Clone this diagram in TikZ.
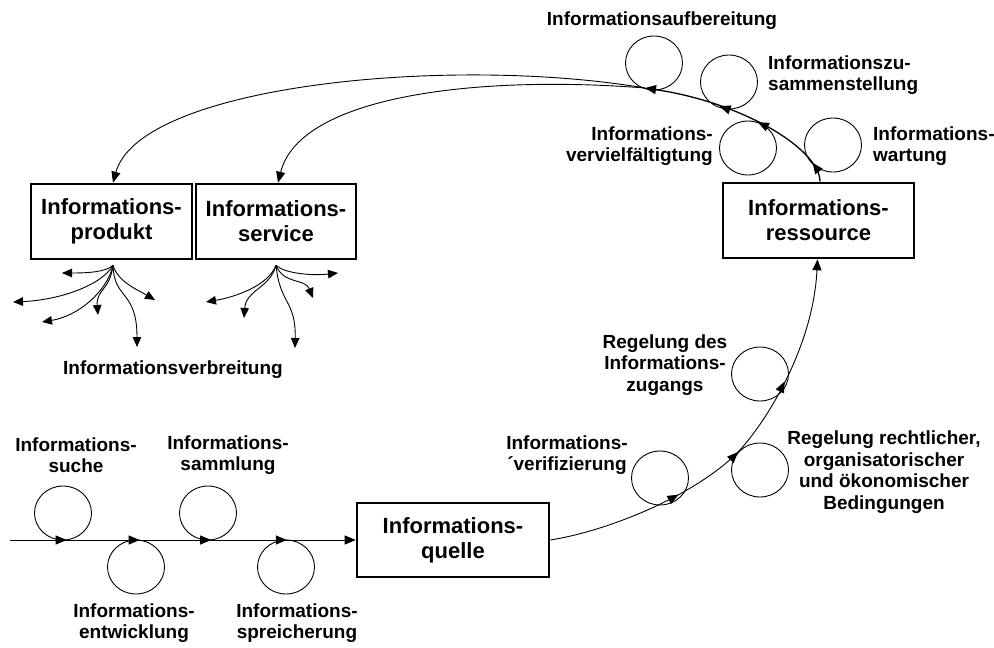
\documentclass[tikz,border=0pt]{standalone}
\usepackage{fontspec}
\setmainfont{Liberation Sans}
\usetikzlibrary{arrows.meta,decorations.markings,shapes.geometric}
\tikzset{
  tri/.tip={Triangle[length=11pt,width=9pt]},
  smalltri/.tip={Triangle[length=10pt,width=8.5pt]},
  thinline/.style={line width=0.9pt},
  fan/.style={line width=0.9pt,-smalltri},
  infobox/.style={draw,line width=2.6pt,inner sep=0pt,align=center,
    font=\fontsize{22}{25}\selectfont\bfseries},
  lbl/.style={inner sep=0pt,align=center,font=\fontsize{19}{21.5}\selectfont\bfseries},
  loopc/.style={draw,ellipse,line width=0.9pt,minimum width=57pt,minimum height=54pt,inner sep=0pt},
}
\begin{document}
\begin{tikzpicture}[x=1pt,y=-1pt]
\useasboundingbox (0,0) rectangle (994,648);

% boxes
\node[infobox,minimum width=161pt,minimum height=75pt] (p) at (111.5,221.5) {Informations-\\produkt};
\node[infobox,minimum width=160pt,minimum height=75pt] (s) at (276,221.5) {Informations-\\service};
\node[infobox,minimum width=191pt,minimum height=75pt] (r) at (818.5,220.5) {Informations-\\ressource};
\node[infobox,minimum width=192pt,minimum height=74pt] (q) at (453,540) {Informations-\\quelle};

% bottom loops
\node[loopc] (c1) at (63,513) {};
\node[loopc] (c2) at (136,567) {};
\node[loopc] (c3) at (208,513) {};
\node[loopc] (c4) at (286,567) {};
\node[lbl] (l1) at (76,455) {Informations-\\suche};
\node[lbl] (l3) at (228,455) {Informations-\\sammlung};
\node[lbl] (l2) at (134,623) {Informations-\\entwicklung};
\node[lbl] (l4) at (297,623) {Informations-\\spreicherung};

\coordinate (lstart) at (10,540);
\draw[thinline,-tri,postaction=decorate,decoration={markings,
  mark=at position 0.164 with {\arrow{tri}},
  mark=at position 0.375 with {\arrow{tri}},
  mark=at position 0.582 with {\arrow{tri}},
  mark=at position 0.801 with {\arrow{tri}}}]
  (lstart) -- (q.west);

% right rising curve
\node[loopc] (c5) at (660,478) {};
\node[loopc] (c6) at (760,470) {};
\node[loopc] (c7) at (760,374) {};
\node[lbl] (l5) at (567,455) {Informations-\\´verifizierung};
\node[lbl] (l6) at (665,365) {Regelung des\\Informations-\\zugangs};
\node[lbl] (l7) at (884,472) {Regelung rechtlicher,\\organisatorischer\\und ökonomischer\\Bedingungen};

\coordinate (m1) at (738,452);
\draw[thinline,postaction=decorate,decoration={markings,
  mark=at position 0.65 with {\arrow{tri}}}]
  (q.east) .. controls (613,530) and (698,493) .. (m1);
\draw[thinline,-tri,postaction=decorate,decoration={markings,
  mark=at position 0.0 with {\arrow{tri}},
  mark=at position 0.4 with {\arrow{tri}}}]
  (m1) .. controls (763,426) and (813,350) .. ([xshift=-1pt]r.south);

% top loops
\node[loopc] (c8) at (654,63) {};
\node[loopc] (c9) at (729,82) {};
\node[loopc] (c10) at (748,148) {};
\node[loopc] (c11) at (833,145) {};
\node[lbl] (l8) at (662,21) {Informationsaufbereitung};
\node[lbl,anchor=west,align=left] (l9) at (768,75) {Informationszu-\\sammenstellung};
\node[lbl,anchor=east,align=right] (l10) at (713,146) {Informations-\\vervielfältigtung};
\node[lbl,anchor=west,align=left] (l11) at (873,146) {Informations-\\wartung};

\coordinate (j) at (645,88);
\draw[line width=1.3pt,-tri,postaction=decorate,decoration={markings,
  mark=at position 0.10 with {\arrow{tri}},
  mark=at position 0.43 with {\arrow{tri}},
  mark=at position 0.63 with {\arrow{tri}}}]
  ([xshift=1.5pt]r.north) .. controls (820,150) and (745,103) .. (j);
\draw[thinline,-tri] (j) .. controls (450,55) and (140,85) .. ([xshift=1.5pt]p.north);
\draw[thinline,-tri] (j) .. controls (480,75) and (300,95) .. ([xshift=2pt]s.north);

% distribution fans
\coordinate (f1) at ([xshift=1.5pt,yshift=-5pt]p.south);
\coordinate (a1) at (62,273);
\coordinate (a2) at (13,302);
\coordinate (a3) at (42,322);
\coordinate (a4) at (98,315);
\coordinate (a5) at (137,347);
\coordinate (a6) at (155,300);
\draw[fan] (f1) .. controls (106,272) and (88,273) .. (a1);
\draw[fan] (f1) .. controls (102,285) and (60,300) .. (a2);
\draw[fan] (f1) .. controls (107,292) and (78,316) .. (a3);
\draw[fan] (f1) .. controls (110,290) and (96,290) .. (a4);
\draw[fan] (f1) .. controls (114,300) and (137,290) .. (a5);
\draw[fan] (f1) .. controls (118,282) and (138,290) .. (a6);

\coordinate (f2) at ([yshift=-5pt]s.south);
\coordinate (b1) at (338,273);
\coordinate (b2) at (313,298);
\coordinate (b3) at (206,302);
\coordinate (b4) at (244,318);
\coordinate (b5) at (295,348);
\draw[fan] (f2) .. controls (284,273) and (310,276) .. (b1);
\draw[fan] (f2) .. controls (284,285) and (305,278) .. (b2);
\draw[fan] (f2) .. controls (268,286) and (235,297) .. (b3);
\draw[fan] (f2) .. controls (270,288) and (246,290) .. (b4);
\draw[fan] (f2) .. controls (280,305) and (296,300) .. (b5);

\node[lbl] (l12) at (173,370) {Informationsverbreitung};
\end{tikzpicture}
\end{document}
